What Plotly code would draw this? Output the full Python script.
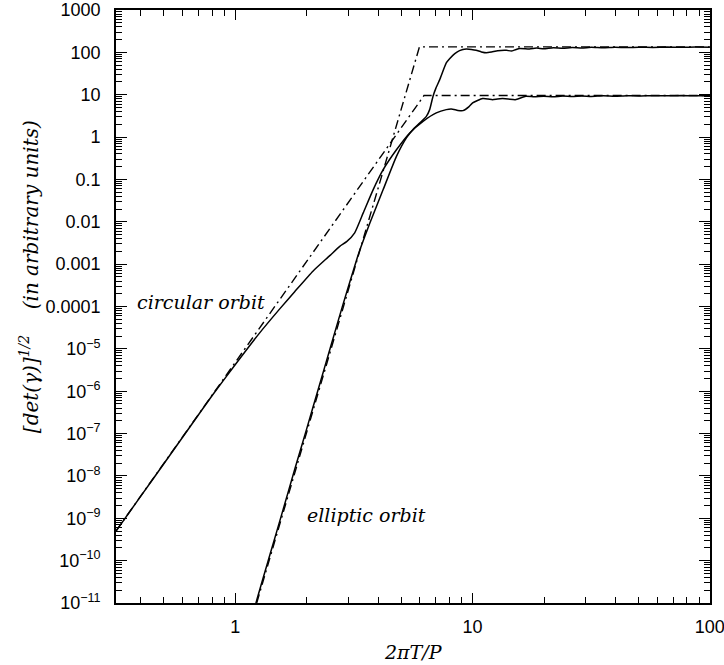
import numpy as np
import plotly.graph_objects as go

# ---- data (log10 of x = 2πT/P and of y) ----
circ_log_x = [-0.503, -0.4, -0.3, -0.2, -0.1, 0.0, 0.1, 0.188, 0.25, 0.328, 0.398, 0.44, 0.469,
              0.503, 0.539, 0.581, 0.623, 0.679, 0.735, 0.791, 0.847, 0.889, 0.910, 0.938, 0.959,
              0.985, 1.0, 1.042, 1.065, 1.084, 1.105, 1.126, 1.15, 1.18, 1.224, 1.26, 1.30, 1.34,
              1.38, 1.42, 1.46, 1.50, 1.55, 1.60, 1.65, 1.70, 1.76, 1.82, 1.88, 1.94, 2.0]
circ_log_y = [-9.30, -8.49, -7.70, -6.91, -6.12, -5.37, -4.64, -4.05, -3.65, -3.16, -2.80, -2.58, -2.47,
              -2.26, -1.79, -1.24, -0.77, -0.30, 0.097, 0.371, 0.57, 0.648, 0.664, 0.63, 0.624,
              0.72, 0.806, 0.908, 0.90, 0.884, 0.90, 0.908, 0.90, 0.884, 0.962, 0.95, 0.965, 0.95,
              0.97, 0.955, 0.972, 0.96, 0.975, 0.965, 0.977, 0.97, 0.978, 0.973, 0.979, 0.976, 0.978]

ell_log_x = [0.08, 0.087, 0.15, 0.2, 0.25, 0.30, 0.35, 0.40, 0.45, 0.511, 0.525, 0.567, 0.623, 0.679,
             0.721, 0.749, 0.777, 0.805, 0.819, 0.833, 0.845, 0.861, 0.889, 0.903, 0.925, 0.945,
             0.973, 0.995, 1.015, 1.037, 1.058, 1.08, 1.106, 1.142, 1.163, 1.18, 1.198, 1.24, 1.27,
             1.30, 1.34, 1.38, 1.42, 1.46, 1.50, 1.55, 1.60, 1.65, 1.70, 1.76, 1.82, 1.88, 1.94, 2.0]
ell_log_y = [-11.2, -11.0, -9.78, -8.82, -7.85, -6.90, -5.94, -4.98, -4.02, -2.90, -2.66, -2.03, -1.24,
             -0.456, -0.02, 0.18, 0.333, 0.49, 0.648, 0.96, 1.15, 1.35, 1.75, 1.85, 1.97, 2.04,
             2.08, 2.07, 2.05, 2.01, 1.99, 2.01, 2.04, 2.05, 2.03, 2.06, 2.09, 2.08, 2.10,
             2.085, 2.11, 2.095, 2.115, 2.10, 2.118, 2.107, 2.12, 2.112, 2.122, 2.117, 2.124, 2.12,
             2.125, 2.123]

# asymptotes (dash-dot): left end, corner, right end
circ_asym_log_x = [-0.503, 0.795, 2.0]
circ_asym_log_y = [-9.30, 0.98, 0.98]
ell_asym_log_x = [0.09, 0.776, 2.0]
ell_asym_log_y = [-11.0, 2.13, 2.13]

y_tick_exp = list(range(-11, 4))
y_tick_text = ["10<sup>\u221211</sup>", "10<sup>\u221210</sup>", "10<sup>\u22129</sup>",
               "10<sup>\u22128</sup>", "10<sup>\u22127</sup>", "10<sup>\u22126</sup>",
               "10<sup>\u22125</sup>", "0.0001", "0.001", "0.01", "0.1", "1", "10", "100", "1000"]
x_tick_vals = [1, 10, 100]
x_tick_text = ["1", "10", "100"]


def p10(a):
    return np.power(10.0, np.asarray(a, dtype=float))


fig = go.Figure()
dashdot = "9px,4px,2px,4px"
for lx, ly in [(circ_asym_log_x, circ_asym_log_y), (ell_asym_log_x, ell_asym_log_y)]:
    fig.add_trace(go.Scatter(x=p10(lx), y=p10(ly), mode="lines",
                             line=dict(color="black", width=1.4, dash=dashdot),
                             showlegend=False, hoverinfo="skip"))
for lx, ly in [(circ_log_x, circ_log_y), (ell_log_x, ell_log_y)]:
    fig.add_trace(go.Scatter(x=p10(lx), y=p10(ly), mode="lines",
                             line=dict(color="black", width=1.5, shape="spline", smoothing=0.5),
                             showlegend=False, hoverinfo="skip"))

tickfont = dict(family="Liberation Sans, Arial, sans-serif", size=18, color="black")
labelfont = dict(family="DejaVu Serif, serif", size=19, color="black", style="italic")
ylabelfont = dict(family="DejaVu Serif, serif", size=20, color="black", style="italic")

fig.update_xaxes(type="log", range=[np.log10(0.314), 2.0006], automargin=False,
                 tickvals=x_tick_vals, ticktext=x_tick_text, ticklabelstandoff=7,
                 ticklabeloverflow="allow",
                 ticks="inside", ticklen=10, tickwidth=1.2, tickcolor="black",
                 minor=dict(ticks="inside", ticklen=6, dtick="D1", tickwidth=1.2,
                            tickcolor="black", showgrid=False),
                 showline=True, linecolor="black", linewidth=1.6, mirror="allticks",
                 showgrid=False, zeroline=False, tickfont=tickfont)
fig.update_yaxes(type="log", range=[-11, 3], automargin=False,
                 tickvals=p10(y_tick_exp), ticktext=y_tick_text, ticklabelstandoff=10,
                 ticklabeloverflow="allow",
                 ticks="inside", ticklen=11, tickwidth=1.2, tickcolor="black",
                 minor=dict(ticks="inside", ticklen=6, dtick="D1", tickwidth=1.0,
                            tickcolor="black", showgrid=False),
                 showline=True, linecolor="black", linewidth=1.6, mirror="allticks",
                 showgrid=False, zeroline=False, tickfont=tickfont)

fig.add_annotation(x=-0.422, y=-3.89, xref="x", yref="y", text="circular orbit",
                   showarrow=False, xanchor="left", yanchor="middle", font=labelfont)
fig.add_annotation(x=0.292, y=-8.93, xref="x", yref="y", text="elliptic orbit",
                   showarrow=False, xanchor="left", yanchor="middle", font=labelfont)
fig.add_annotation(x=0.5, y=-0.082, xref="paper", yref="paper", text="2\u03c0T/P",
                   showarrow=False, xanchor="center", yanchor="middle", font=labelfont)
fig.add_annotation(x=-0.146, y=0.55, xref="paper", yref="paper", textangle=-90,
                   text="[det(\u03b3)]<sup>1/2</sup>    (in arbitrary units)",
                   showarrow=False, xanchor="center", yanchor="middle", font=ylabelfont)

fig.update_layout(width=724, height=665, margin=dict(l=116, r=14, t=10, b=62),
                  paper_bgcolor="white", plot_bgcolor="white")

fig.write_html("out.html", config={"displayModeBar": False},
               post_script="document.body.style.margin='0';document.body.style.overflow='hidden';")
